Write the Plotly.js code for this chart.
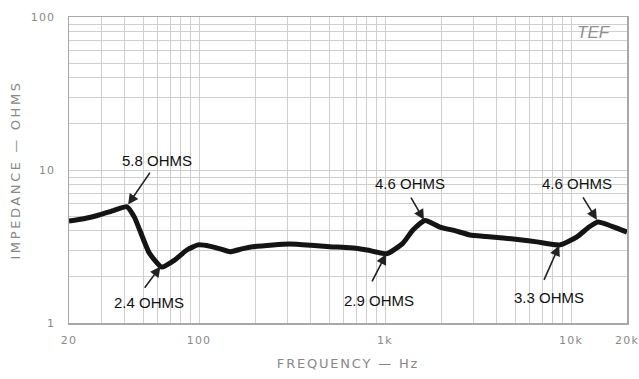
<!DOCTYPE html>
<html>
<head>
<meta charset="utf-8">
<script src="https://cdn.plot.ly/plotly-3.0.1.min.js"></script>
<style>
html,body{margin:0;padding:0;background:#fff;}
#chart{width:639px;height:379px;}
.xtitle{letter-spacing:1.8px;}
.ytitle{letter-spacing:2.6px;}
.xtick text,.ytick text{letter-spacing:1.2px;}
</style>
</head>
<body>
<div id="chart"></div>
<script>
// Impedance curve (Hz, ohms)
const freqs = [20, 24, 29, 35, 41, 45, 48, 54, 63, 74, 86, 99, 115, 130, 147, 170, 195, 250, 308, 400, 506, 650, 800, 1026, 1250, 1413, 1640, 1977, 2400, 2864, 3500, 4305, 5300, 6560, 8730, 10770, 12500, 13970, 16500, 20000];
const impedance = [4.64, 4.8, 5.08, 5.45, 5.75, 4.9, 4.05, 2.87, 2.32, 2.58, 3.0, 3.24, 3.17, 3.05, 2.92, 3.05, 3.15, 3.24, 3.28, 3.22, 3.15, 3.1, 3.0, 2.84, 3.33, 4.05, 4.68, 4.24, 4.0, 3.76, 3.68, 3.6, 3.5, 3.39, 3.24, 3.66, 4.24, 4.57, 4.3, 3.93];

// Labelled points
const labelFreqs = [41, 63, 1026, 1640, 8730, 13970];
const labelOhms = [5.8, 2.4, 2.9, 4.6, 3.3, 4.6];
const labelTexts = ["5.8 OHMS", "2.4 OHMS", "2.9 OHMS", "4.6 OHMS", "3.3 OHMS", "4.6 OHMS"];

// Axis ticks / grid
const xGrid = [20,30,40,50,60,70,80,90,100,200,300,400,500,600,700,800,900,1000,2000,3000,4000,5000,6000,7000,8000,9000,10000,20000];
const xLabels = {20:"20",100:"100",1000:"1k",10000:"10k",20000:"20k"};
const yGrid = [1,2,3,4,5,6,7,8,9,10,20,30,40,50,60,70,80,90,100];
const yLabels = {1:"1",10:"10",100:"100"};

// layout offsets (pixels) for arrows and label text
const arrowOffsets = [[26,-38],[-20,27],[-18,35],[-17,-29],[-19,43],[-18,-29]];
const textShifts = [[30,46],[-13,-38],[-8,-48],[-15,38],[-11,-54],[-21,38]];

const trace = {
  x: freqs, y: impedance, type: 'scatter', mode: 'lines',
  line: {color: '#141414', width: 5, shape: 'spline', smoothing: 0.5},
  hoverinfo: 'skip'
};

const annotations = [];
labelFreqs.forEach((f, i) => {
  annotations.push({
    x: Math.log10(f), y: Math.log10(labelOhms[i]), xref: 'x', yref: 'y',
    text: ' ', showarrow: true, ax: arrowOffsets[i][0], ay: arrowOffsets[i][1],
    arrowhead: 2, arrowsize: 1.3, arrowwidth: 1.6, arrowcolor: '#222', standoff: 2
  });
  annotations.push({
    x: Math.log10(f), y: Math.log10(labelOhms[i]), xref: 'x', yref: 'y',
    text: labelTexts[i], showarrow: false,
    xshift: textShifts[i][0], yshift: textShifts[i][1],
    font: {family: 'Liberation Sans, Arial, sans-serif', size: 15, color: '#111'}
  });
});
annotations.push({
  x: 0.975, y: 0.948, xref: 'paper', yref: 'paper', xanchor: 'right', yanchor: 'middle',
  text: '<i>TEF</i>', showarrow: false,
  font: {family: 'Liberation Sans, Arial, sans-serif', size: 17, color: '#8f8f8f'}
});

const tickFont = {family: 'DejaVu Sans, sans-serif', size: 11, color: '#888'};
const titleFont = {family: 'DejaVu Sans, sans-serif', size: 13, color: '#888'};

const layout = {
  width: 639, height: 379,
  margin: {l: 69, r: 12, t: 17, b: 56},
  paper_bgcolor: '#fff', plot_bgcolor: '#fff',
  showlegend: false,
  xaxis: {
    type: 'log', range: [Math.log10(20), Math.log10(20000)],
    tickvals: xGrid, ticktext: xGrid.map(v => xLabels[v] || ''),
    ticks: '', tickfont: tickFont, ticklabelstandoff: 6,
    showgrid: true, gridcolor: '#cfcfcf', gridwidth: 1,
    showline: true, linecolor: '#a8a8a8', linewidth: 1.5, mirror: true,
    zeroline: false,
    title: {text: 'FREQUENCY — Hz', font: titleFont, standoff: 13}
  },
  yaxis: {
    type: 'log', range: [0, 2],
    tickvals: yGrid, ticktext: yGrid.map(v => yLabels[v] || ''),
    ticks: '', tickfont: tickFont, ticklabelstandoff: 10,
    showgrid: true, gridcolor: '#cfcfcf', gridwidth: 1,
    showline: true, linecolor: '#a8a8a8', linewidth: 1.5, mirror: true,
    zeroline: false,
    title: {text: 'IMPEDANCE — OHMS', font: titleFont, standoff: 7}
  },
  annotations: annotations
};

Plotly.newPlot('chart', [trace], layout, {staticPlot: true, displayModeBar: false});
</script>
</body>
</html>
